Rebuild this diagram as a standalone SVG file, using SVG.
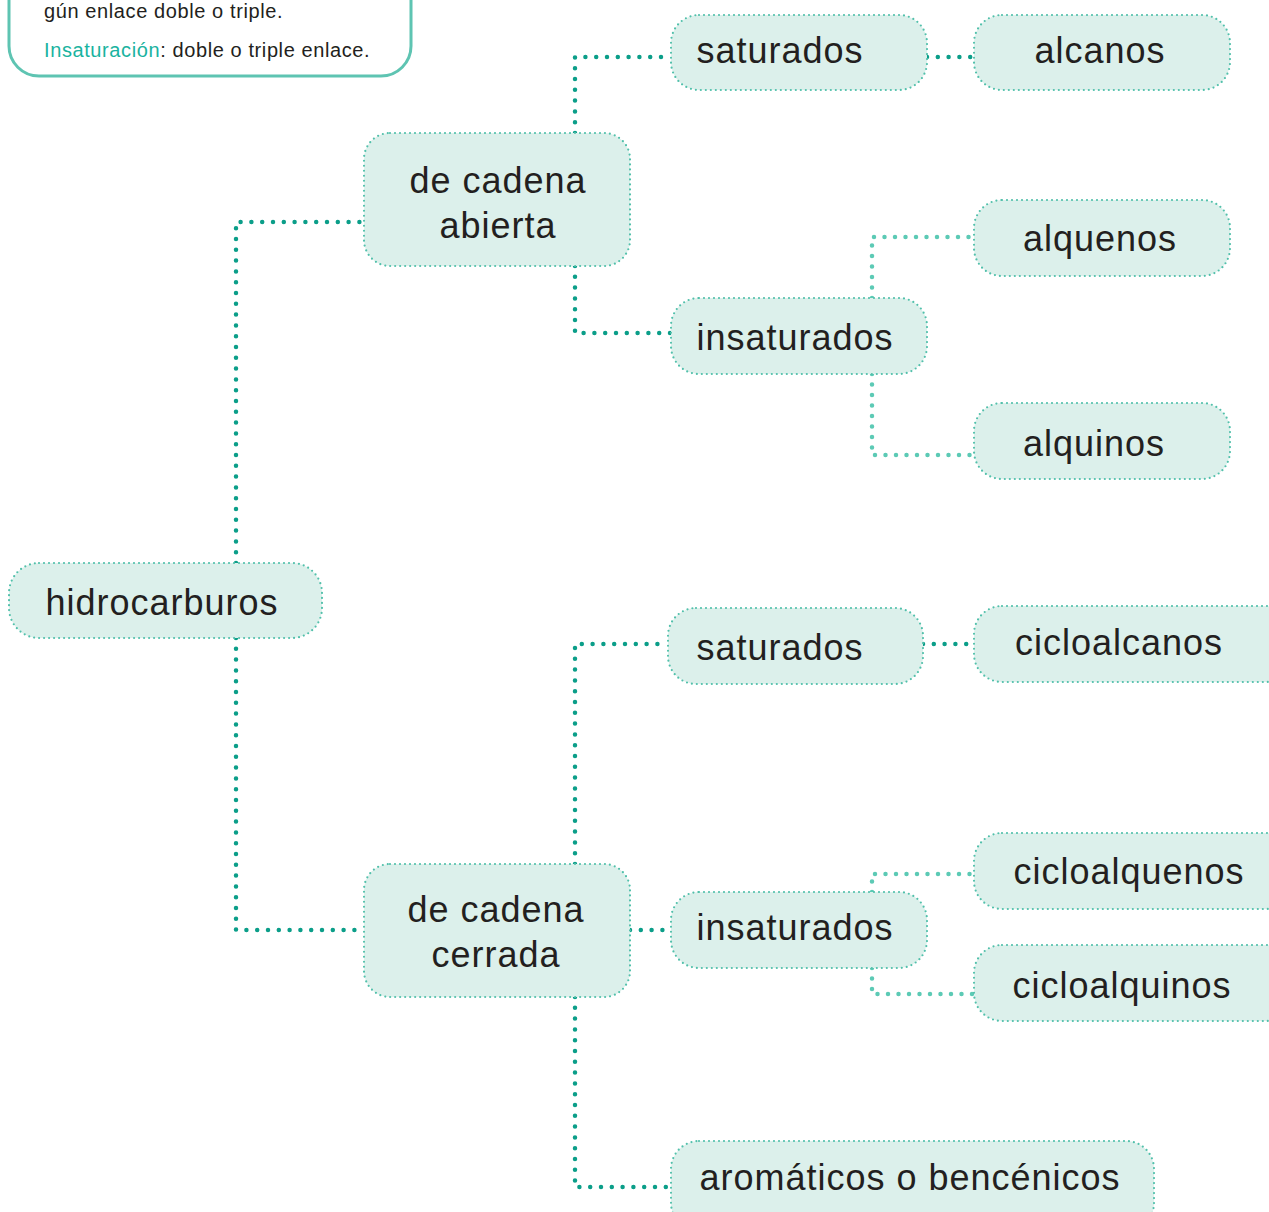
<svg xmlns="http://www.w3.org/2000/svg" width="1269" height="1212" viewBox="0 0 1269 1212">
<style>
.n{fill:#dcf0eb;stroke:#52c0ab;stroke-width:2.2;stroke-dasharray:0 5;stroke-linecap:round}
.t{font-family:"Liberation Sans",Arial,sans-serif;font-size:36px;letter-spacing:1px;fill:#231f20;text-anchor:middle}
.c{fill:none;stroke:#0b9e89;stroke-width:4.5;stroke-dasharray:0 10.8;stroke-linecap:round}
.l{fill:none;stroke:#5ccab5;stroke-width:4.5;stroke-dasharray:0 10.5;stroke-linecap:round}
.note{font-family:"Liberation Sans",Arial,sans-serif;font-size:20px;letter-spacing:0.6px;fill:#231f20}
</style>
<rect width="1269" height="1212" fill="#fff"/>
<g id="note">
<rect x="9" y="-60" width="402" height="136" rx="30" fill="#fff" stroke="#5ec4b2" stroke-width="3"/>
<text class="note" x="44" y="18">gún enlace doble o triple.</text>
<text class="note" x="44" y="57"><tspan fill="#1ab3a0">Insaturación</tspan>: doble o triple enlace.</text>
</g>
<g id="connectors">
<path class="c" d="M236 563 V222 H364"/>
<path class="c" d="M236 638 V930 H364"/>
<path class="c" d="M575 133 V57 H671"/>
<path class="c" d="M575 266 V333 H671"/>
<path class="c" d="M927 57 H974"/>
<path class="l" d="M872 298 V237 H974"/>
<path class="l" d="M872 374 V455 H974"/>
<path class="c" d="M575 864 V644 H668"/>
<path class="c" d="M923 644 H974"/>
<path class="c" d="M630 930 H671"/>
<path class="l" d="M872 892 V874 H974"/>
<path class="l" d="M872 968 V994 H974"/>
<path class="c" d="M575 997 V1187 H671"/>
</g>
<g id="hidrocarburos"><rect class="n" x="9" y="563" width="313" height="75" rx="30"/><text class="t" x="162" y="615">hidrocarburos</text></g>
<g id="abierta"><rect class="n" x="364" y="133" width="266" height="133" rx="26"/><text class="t" x="498" y="193">de cadena</text><text class="t" x="498" y="238">abierta</text></g>
<g id="saturados1"><rect class="n" x="671" y="15" width="256" height="75" rx="28"/><text class="t" x="780" y="63">saturados</text></g>
<g id="alcanos"><rect class="n" x="974" y="15" width="256" height="75" rx="28"/><text class="t" x="1100" y="63">alcanos</text></g>
<g id="insaturados1"><rect class="n" x="671" y="298" width="256" height="76" rx="28"/><text class="t" x="795" y="350">insaturados</text></g>
<g id="alquenos"><rect class="n" x="974" y="200" width="256" height="76" rx="28"/><text class="t" x="1100" y="251">alquenos</text></g>
<g id="alquinos"><rect class="n" x="974" y="403" width="256" height="76" rx="28"/><text class="t" x="1094" y="456">alquinos</text></g>
<g id="cerrada"><rect class="n" x="364" y="864" width="266" height="133" rx="26"/><text class="t" x="496" y="922">de cadena</text><text class="t" x="496" y="967">cerrada</text></g>
<g id="saturados2"><rect class="n" x="668" y="608" width="255" height="76" rx="28"/><text class="t" x="780" y="660">saturados</text></g>
<g id="cicloalcanos"><rect class="n" x="974" y="606" width="320" height="76" rx="28"/><text class="t" x="1119" y="655">cicloalcanos</text></g>
<g id="insaturados2"><rect class="n" x="671" y="892" width="256" height="76" rx="28"/><text class="t" x="795" y="940">insaturados</text></g>
<g id="cicloalquenos"><rect class="n" x="974" y="833" width="320" height="76" rx="28"/><text class="t" x="1129" y="884">cicloalquenos</text></g>
<g id="cicloalquinos"><rect class="n" x="974" y="945" width="320" height="76" rx="28"/><text class="t" x="1122" y="998">cicloalquinos</text></g>
<g id="aromaticos"><rect class="n" x="671" y="1141" width="483" height="90" rx="28"/><text class="t" x="910" y="1190">aromáticos o bencénicos</text></g>
</svg>
